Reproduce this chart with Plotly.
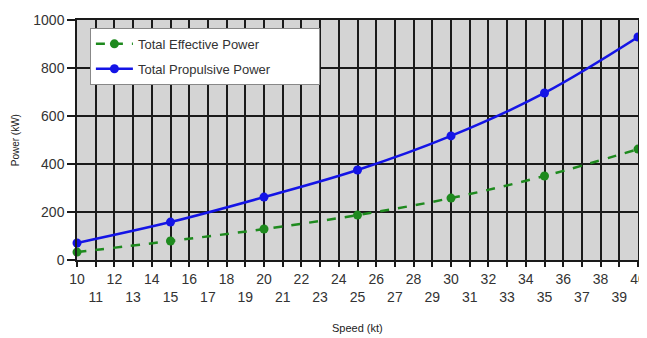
import plotly.graph_objects as go

speed = [10, 15, 20, 25, 30, 35, 40]
effective_power = [33, 79, 129, 187, 258, 350, 462]
propulsive_power = [71, 158, 262, 375, 517, 696, 929]

x_ticks = list(range(10, 41))
x_ticktext = [str(v) if v % 2 == 0 else "<br>" + str(v) for v in x_ticks]
y_ticks = [0, 200, 400, 600, 800, 1000]

FONT = "Liberation Sans, Arial, sans-serif"
NB = "\u00a0"

fig = go.Figure()
fig.add_trace(go.Scatter(
    x=speed, y=effective_power, name="Total Effective Power", legendgroup="a",
    mode="lines+markers", line=dict(color="#1e8a1e", width=2.5, dash="dash", shape="spline"),
    marker=dict(size=9, color="#1e8a1e"), cliponaxis=False))
fig.add_trace(go.Scatter(
    x=speed, y=propulsive_power, name="Total Propulsive Power" + NB * 12, legendgroup="b",
    mode="lines+markers", line=dict(color="#1414e6", width=2.5, shape="spline"),
    marker=dict(size=9, color="#1414e6"), cliponaxis=False))

# page body has an 8px margin: figure is sized/offset to compensate
fig.update_layout(
    width=639, height=330,
    margin=dict(l=69, r=9, t=12, b=78),
    paper_bgcolor="white", plot_bgcolor="#d4d4d4",
    font=dict(family=FONT, color="#333333"),
    legend=dict(x=0.023, y=0.967, xanchor="left", yanchor="top",
                bgcolor="white", bordercolor="#888888", borderwidth=1,
                font=dict(size=13, color="#333333"), tracegroupgap=5,
                itemwidth=37),
    showlegend=True,
    annotations=[
        dict(text="Power (kW)", xref="paper", yref="paper", x=-0.11, y=0.5,
             xanchor="center", yanchor="middle", textangle=-90, showarrow=False,
             font=dict(size=10, color="#222222")),
        dict(text="Speed (kt)", xref="paper", yref="paper", x=0.5, y=-0.283,
             xanchor="center", yanchor="middle", showarrow=False,
             font=dict(size=11, color="#222222")),
    ],
)
fig.update_xaxes(
    range=[10, 40], tickmode="array", tickvals=x_ticks, ticktext=x_ticktext,
    tickangle=0, tickfont=dict(size=14, color="#333333"),
    ticklabeloverflow="allow",
    showgrid=True, gridcolor="#1a1a1a", gridwidth=1.5,
    ticks="outside", ticklen=5, tickcolor="#1a1a1a", tickwidth=1.5,
    showline=True, linecolor="#1a1a1a", linewidth=1.5, mirror=True,
    zeroline=False, automargin=False,
)
fig.update_yaxes(
    range=[0, 1000], tickmode="array", tickvals=y_ticks,
    tickfont=dict(size=14, color="#333333"),
    ticklabeloverflow="allow",
    showgrid=True, gridcolor="#1a1a1a", gridwidth=1.5,
    ticks="outside", ticklen=8, tickcolor="#1a1a1a", tickwidth=1.5,
    showline=True, linecolor="#1a1a1a", linewidth=1.5, mirror=True,
    zeroline=False, automargin=False,
)

fig.write_html("out.html")
